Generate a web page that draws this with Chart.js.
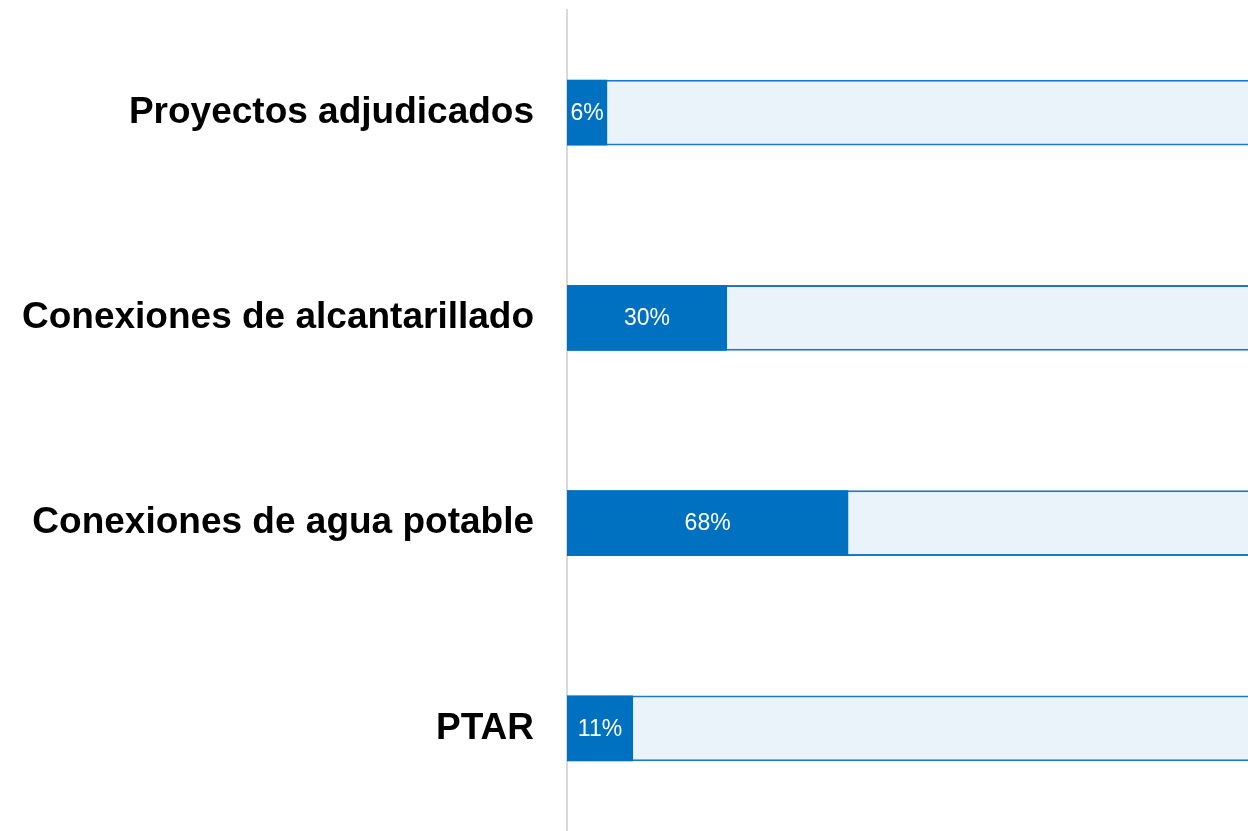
<!DOCTYPE html>
<html>
<head>
<meta charset="utf-8">
<script src="https://cdn.jsdelivr.net/npm/chart.js@4/dist/chart.umd.min.js"></script>
<style>
  html, body { margin: 0; padding: 0; background: #fff; }
  #wrap { width: 1248px; height: 831px; }
</style>
</head>
<body>
<div id="wrap"><canvas id="avance"></canvas></div>
<script>
// categorias del eje vertical
const categorias = ['Proyectos adjudicados', 'Conexiones de alcantarillado', 'Conexiones de agua potable', 'PTAR'];
// largo de la barra azul (escala 0-100 de la pista visible)
const avance = [5.9, 23.5, 41.3, 9.7];
// etiquetas que se muestran dentro de cada barra
const etiquetas = ['6%', '30%', '68%', '11%'];
// pista de fondo
const pista = [100, 100, 100, 100];

// dibuja el porcentaje en el centro de la barra azul
const textoBarras = {
    id: 'textoBarras',
    afterDatasetsDraw(chart) {
        const ctx = chart.ctx;
        const meta = chart.getDatasetMeta(0);
        ctx.save();
        ctx.font = '23px "Liberation Sans", Arial, sans-serif';
        ctx.fillStyle = '#ffffff';
        ctx.textAlign = 'center';
        ctx.textBaseline = 'middle';
        meta.data.forEach((bar, i) => {
            const cx = (bar.base + bar.x) / 2;
            ctx.fillText(etiquetas[i], cx, bar.y + 1);
        });
        ctx.restore();
    }
};

new Chart(document.getElementById('avance').getContext('2d'), {
    type: 'bar',
    data: {
        labels: categorias,
        datasets: [
            {
                data: avance,
                backgroundColor: '#0070c0',
                borderWidth: 0,
                barPercentage: 0.32,
                categoryPercentage: 1,
                grouped: false
            },
            {
                data: pista,
                backgroundColor: '#eaf2fa',
                borderColor: '#1a78cf',
                borderWidth: { top: 2, bottom: 2, left: 0, right: 0 },
                borderSkipped: false,
                barPercentage: 0.32,
                categoryPercentage: 1,
                grouped: false
            }
        ]
    },
    options: {
        indexAxis: 'y',
        responsive: true,
        maintainAspectRatio: false,
        animation: false,
        layout: { padding: { top: 10, right: 0, bottom: 0, left: 0 } },
        plugins: {
            legend: { display: false },
            tooltip: { enabled: false }
        },
        scales: {
            x: {
                display: false,
                min: 0,
                max: 100
            },
            y: {
                grid: { display: false },
                border: { display: true, color: '#d9d9d9', width: 2 },
                ticks: {
                    color: '#000000',
                    padding: 25,
                    font: { family: '"Liberation Sans", Arial, sans-serif', size: 37, weight: 'bold' }
                },
                afterFit(scale) {
                    // sin relleno extra arriba y abajo, el eje llega hasta el borde
                    scale.paddingTop = 0;
                    scale.paddingBottom = 0;
                    scale.width = 567;
                }
            }
        }
    },
    plugins: [textoBarras]
});
</script>
</body>
</html>
